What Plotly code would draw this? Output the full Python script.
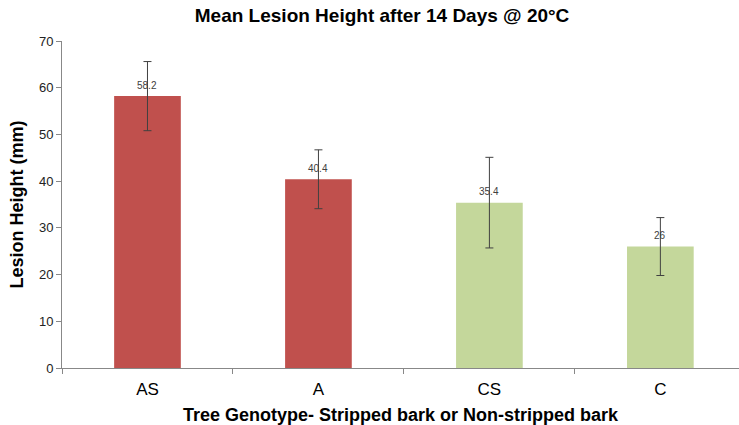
import plotly.graph_objects as go

categories = ["AS", "A", "CS", "C"]
mean_height = [58.2, 40.4, 35.4, 26]
error_sd = [7.4, 6.3, 9.7, 6.2]
bar_colors = ["#C0504D", "#C0504D", "#C4D79B", "#C4D79B"]
y_ticks = [0, 10, 20, 30, 40, 50, 60, 70]

FONT = "Liberation Sans, Arial"

fig = go.Figure()
fig.add_trace(go.Bar(
    x=categories,
    y=mean_height,
    marker=dict(color=bar_colors, line=dict(width=0)),
    width=0.39,
    error_y=dict(type="data", array=error_sd, visible=True,
                 color="#404040", thickness=1, width=4),
    hoverinfo="x+y",
))

for cat, val in zip(categories, mean_height):
    fig.add_annotation(
        x=cat, y=val, text=f"{val:g}", showarrow=False,
        yanchor="middle", yshift=11,
        font=dict(family=FONT, size=10, color="#404040"),
    )

fig.update_layout(
    width=739, height=425,
    margin=dict(l=62, r=0, t=41, b=57),
    paper_bgcolor="white", plot_bgcolor="white",
    showlegend=False,
    title=dict(
        text="<b>Mean Lesion Height after 14 Days @ 20°C</b>",
        x=0.517, xanchor="center", y=0.964, yanchor="middle",
        font=dict(family=FONT, size=19, color="black"),
    ),
    xaxis=dict(
        type="category",
        range=[-0.5, 3.46],
        tickson="boundaries",
        ticks="outside", ticklen=5, tickcolor="#888888",
        ticklabelstandoff=6,
        showline=True, linecolor="#888888", linewidth=1,
        showgrid=False, zeroline=False,
        tickfont=dict(family=FONT, size=17, color="black"),
        title=dict(text="<b>Tree Genotype- Stripped bark or Non-stripped bark</b>",
                   font=dict(family=FONT, size=18, color="black"),
                   standoff=9),
    ),
    yaxis=dict(
        range=[0, 70],
        tickvals=y_ticks,
        ticks="outside", ticklen=5, tickcolor="#888888",
        showline=True, linecolor="#888888", linewidth=1,
        showgrid=False, zeroline=False,
        tickfont=dict(family=FONT, size=13, color="#222222"),
        title=dict(text="<b>Lesion Height (mm)</b>",
                   font=dict(family=FONT, size=18, color="black"),
                   standoff=10),
    ),
)

fig.write_html("out.html")
